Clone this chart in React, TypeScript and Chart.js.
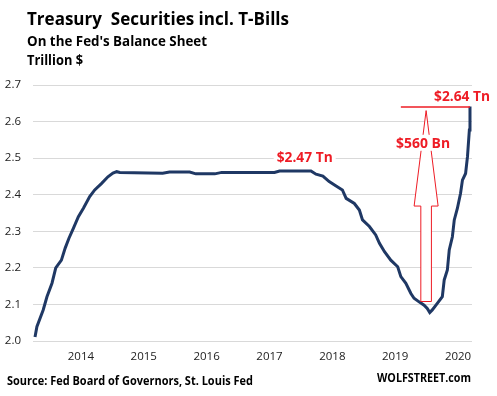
import React, { useEffect, useRef } from "react";
import { Chart, registerables } from "chart.js";

Chart.register(...registerables);

// ---- data ----
const dates = [
  2013.27, 2013.3, 2013.4, 2013.46, 2013.54, 2013.6, 2013.69, 2013.75, 2013.81, 2013.88,
  2013.96, 2014.04, 2014.14, 2014.22, 2014.33, 2014.43, 2014.51, 2014.57, 2014.62, 2015.3,
  2015.41, 2015.73, 2015.83, 2016.13, 2016.24, 2017.08, 2017.16, 2017.66, 2017.74, 2017.85,
  2017.95, 2018.06, 2018.16, 2018.22, 2018.35, 2018.43, 2018.48, 2018.59, 2018.69, 2018.75,
  2018.83, 2018.93, 2019.04, 2019.09, 2019.17, 2019.25, 2019.3, 2019.38, 2019.46, 2019.51,
  2019.55, 2019.59, 2019.67, 2019.75, 2019.78, 2019.83, 2019.86, 2019.91, 2019.94, 2019.99,
  2020.04, 2020.07, 2020.12, 2020.15, 2020.18, 2020.19,
];
const holdings = [
  2.011, 2.039, 2.085, 2.121, 2.158, 2.2, 2.221, 2.254, 2.281, 2.308,
  2.34, 2.363, 2.395, 2.413, 2.431, 2.449, 2.459, 2.463, 2.461, 2.459,
  2.462, 2.462, 2.457, 2.457, 2.461, 2.461, 2.465, 2.465, 2.456, 2.451,
  2.436, 2.424, 2.413, 2.39, 2.376, 2.358, 2.331, 2.313, 2.29, 2.267,
  2.244, 2.221, 2.203, 2.176, 2.158, 2.13, 2.117, 2.107, 2.098, 2.089,
  2.078, 2.085, 2.103, 2.121, 2.167, 2.194, 2.249, 2.285, 2.331, 2.363,
  2.404, 2.44, 2.458, 2.504, 2.577, 2.641,
];
const yearTicks = [2014, 2015, 2016, 2017, 2018, 2019, 2020];
const valueTicks = [2.0, 2.1, 2.2, 2.3, 2.4, 2.5, 2.6, 2.7];
const xRange = [2013.238, 2020.222];
const yRange = [2.0, 2.7];

const titleText = "Treasury  Securities incl. T-Bills";
const subtitleText = "On the Fed's Balance Sheet";
const unitText = "Trillion $";
const sourceText = "Source: Fed Board of Governors, St. Louis Fed";
const brandText = "WOLFSTREET.com";
const peakLabel = "$2.47 Tn";
const endLabel = "$2.64 Tn";
const jumpLabel = "$560 Bn";

const RED = "#ee1c25";
const FONT = '"Open Sans", "Noto Sans", sans-serif';

function fitText(
  ctx: CanvasRenderingContext2D,
  text: string,
  x: number,
  y: number,
  font: string,
  width: number,
  align: "left" | "center" = "left"
) {
  ctx.save();
  ctx.font = font;
  ctx.textAlign = "left";
  ctx.textBaseline = "alphabetic";
  const w = ctx.measureText(text).width;
  const s = width / w;
  ctx.translate(x, y);
  ctx.scale(s, 1);
  ctx.fillText(text, align === "center" ? -w / 2 : 0, 0);
  ctx.restore();
}

const decorPlugin = {
  id: "decor",
  beforeDraw(chart: any) {
    const ctx = chart.ctx as CanvasRenderingContext2D;
    ctx.save();
    ctx.fillStyle = "#ffffff";
    ctx.fillRect(0, 0, chart.width, chart.height);
    ctx.restore();
  },
  afterDatasetsDraw(chart: any) {
    const ctx = chart.ctx as CanvasRenderingContext2D;
    const xs = chart.scales.x;
    const ys = chart.scales.y;

    // titles
    ctx.fillStyle = "#000000";
    fitText(ctx, titleText, 27, 25, `bold 18px ${FONT}`, 262);
    fitText(ctx, subtitleText, 27, 46, `bold 13.5px ${FONT}`, 180);
    fitText(ctx, unitText, 27, 65, `bold 13.5px ${FONT}`, 56);
    fitText(ctx, sourceText, 7, 385, `bold 12.5px ${FONT}`, 246);
    fitText(ctx, brandText, 377, 382, `bold 12.5px ${FONT}`, 94);

    // peak label with white background
    const px = xs.getPixelForValue(2017.56);
    const py = ys.getPixelForValue(2.504);
    ctx.fillStyle = "#ffffff";
    ctx.fillRect(px - 31, py - 8, 62, 16);
    ctx.fillStyle = RED;
    fitText(ctx, peakLabel, px, py + 5, `bold 14px ${FONT}`, 56, "center");

    // horizontal marker at the latest value
    const lastX = xs.getPixelForValue(dates[dates.length - 1]);
    const lastY = ys.getPixelForValue(2.64);
    ctx.save();
    ctx.strokeStyle = RED;
    ctx.lineWidth = 1.5;
    ctx.beginPath();
    ctx.moveTo(xs.getPixelForValue(2019.09), lastY);
    ctx.lineTo(lastX, lastY);
    ctx.stroke();
    ctx.restore();

    // end label
    ctx.fillStyle = RED;
    fitText(ctx, endLabel, xs.getPixelForValue(2020.063), ys.getPixelForValue(2.67) + 5, `bold 14px ${FONT}`, 56, "center");

    // block arrow
    const ax = xs.getPixelForValue(2019.492);
    const tipY = ys.getPixelForValue(2.63);
    const headY = ys.getPixelForValue(2.369);
    const botY = ys.getPixelForValue(2.108);
    const hw = 12;
    const sw = 5.3;
    ctx.save();
    ctx.strokeStyle = RED;
    ctx.lineWidth = 1;
    ctx.fillStyle = "#ffffff";
    ctx.beginPath();
    ctx.moveTo(ax, tipY);
    ctx.lineTo(ax + hw, headY);
    ctx.lineTo(ax + sw, headY);
    ctx.lineTo(ax + sw, botY);
    ctx.lineTo(ax - sw, botY);
    ctx.lineTo(ax - sw, headY);
    ctx.lineTo(ax - hw, headY);
    ctx.closePath();
    ctx.fill();
    ctx.stroke();
    ctx.restore();

    // jump label
    const jx = xs.getPixelForValue(2019.444);
    const jy = ys.getPixelForValue(2.542);
    ctx.fillStyle = "#ffffff";
    ctx.fillRect(jx - 28, jy - 8, 56, 16);
    ctx.fillStyle = RED;
    fitText(ctx, jumpLabel, jx, jy + 5, `bold 14px ${FONT}`, 54, "center");
  },
};

export default function App() {
  const ref = useRef<HTMLCanvasElement | null>(null);

  useEffect(() => {
    if (!ref.current) return;
    const chart = new Chart(ref.current, {
      type: "line",
      data: {
        datasets: [
          {
            data: dates.map((d, i) => ({ x: d, y: holdings[i] })),
            borderColor: "#1f3864",
            borderWidth: 3,
            pointRadius: 0,
            tension: 0,
            fill: false,
          },
        ],
      },
      options: {
        responsive: false,
        animation: false,
        devicePixelRatio: 1,
        layout: { padding: { top: 85, left: 0, right: 25, bottom: 0 } },
        plugins: {
          legend: { display: false },
          tooltip: { enabled: false },
          title: { display: false },
        },
        scales: {
          x: {
            type: "linear",
            min: xRange[0],
            max: xRange[1],
            grid: { display: false, drawTicks: false },
            border: { display: false },
            ticks: {
              font: { family: FONT, size: 11.5 },
              color: "#222222",
              padding: 9,
              maxRotation: 0,
              autoSkip: false,
              callback: (v: any) => String(v),
            },
            afterBuildTicks: (scale: any) => {
              scale.ticks = yearTicks.map((value) => ({ value }));
            },
            afterFit: (scale: any) => {
              scale.height = 55;
            },
          },
          y: {
            type: "linear",
            min: yRange[0],
            max: yRange[1],
            grid: { color: "#d9d9d9", lineWidth: 1, drawTicks: false },
            border: { display: false },
            ticks: {
              font: { family: FONT, size: 11.5 },
              color: "#222222",
              padding: 12,
              callback: (v: any) => Number(v).toFixed(1),
            },
            afterBuildTicks: (scale: any) => {
              scale.ticks = valueTicks.map((value) => ({ value }));
            },
            afterFit: (scale: any) => {
              scale.width = 33;
            },
          },
        },
      },
      plugins: [decorPlugin],
    });
    return () => chart.destroy();
  }, []);

  return (
    <div style={{ position: "fixed", left: 0, top: 0, width: 497, height: 396, background: "#fff" }}>
      <canvas ref={ref} width={497} height={396} style={{ display: "block" }} />
    </div>
  );
}
